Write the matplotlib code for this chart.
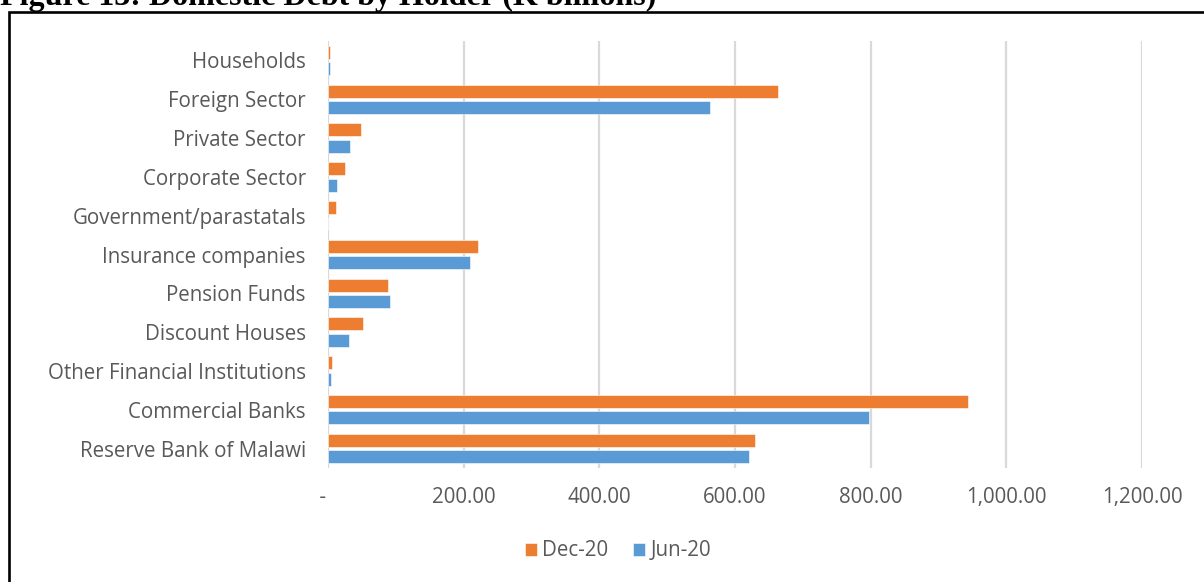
import matplotlib
matplotlib.use("Agg")
import matplotlib.pyplot as plt
import matplotlib.patches as mpatches
from matplotlib.ticker import FuncFormatter, MultipleLocator
import numpy as np

categories = ["Reserve Bank of Malawi", "Commercial Banks", "Other Financial Institutions",
              "Discount Houses", "Pension Funds", "Insurance companies",
              "Government/parastatals", "Corporate Sector", "Private Sector",
              "Foreign Sector", "Households"]
dec20 = [630, 944, 6, 52, 88, 221, 12, 25, 49, 663, 3.5]
jun20 = [620, 798, 4, 31, 91, 209, 0, 13, 32, 563, 3.5]
series_names = ["Dec-20", "Jun-20"]

ORANGE = "#ED7D31"
BLUE = "#5B9BD5"
TXT = "#595959"
FONT = ["Open Sans", "DejaVu Sans"]
FS = 14.8

W, H = 1204, 582
fig = plt.figure(figsize=(W / 100, H / 100), dpi=100)
ax = fig.add_axes([328 / W, 1 - 468 / H, (1142 - 328) / W, (468 - 41) / H])

y = np.arange(len(categories))
h = 0.335
off = 0.21
ax.barh(y + off, dec20, height=h, color=ORANGE, edgecolor="white", linewidth=0.4,
        label=series_names[0], zorder=3)
ax.barh(y - off, jun20, height=h, color=BLUE, edgecolor="white", linewidth=0.4,
        label=series_names[1], zorder=3)

ax.set_xlim(0, 1200)
ax.set_ylim(-0.5, len(categories) - 0.5)
ax.xaxis.set_major_locator(MultipleLocator(200))
ax.xaxis.set_major_formatter(FuncFormatter(lambda v, p: " -   " if v == 0 else f"{v:,.2f}"))
ax.set_yticks(y)
ax.set_yticklabels(categories)
ax.grid(axis="x", color="#D9D9D9", linewidth=1.6, zorder=0)
for s in ax.spines.values():
    s.set_visible(False)
ax.tick_params(axis="both", length=0, colors=TXT, labelsize=FS)
ax.tick_params(axis="y", pad=16)
ax.tick_params(axis="x", pad=14)
for lab in ax.get_xticklabels() + ax.get_yticklabels():
    lab.set_family(FONT)

leg = fig.legend(loc="center", bbox_to_anchor=(618 / W, 1 - 551 / H), ncol=2, frameon=False,
                 prop={"family": FONT, "size": FS}, handlelength=0.6, handleheight=0.6,
                 handletextpad=0.25, columnspacing=1.2)
for t in leg.get_texts():
    t.set_color(TXT)

fig.text(0, 1 - 5.5 / H, "Figure 13: Domestic Debt by Holder (K billions)",
         family="Liberation Serif", weight="bold", fontsize=23, va="baseline", ha="left")

frame = mpatches.Rectangle((8.5 / W, -0.1), (1240 - 8.5) / W, 1.1 - 12 / H,
                           transform=fig.transFigure, fill=False, edgecolor="black",
                           linewidth=1.9)
fig.patches.append(frame)

fig.savefig("out.png", dpi=100)
